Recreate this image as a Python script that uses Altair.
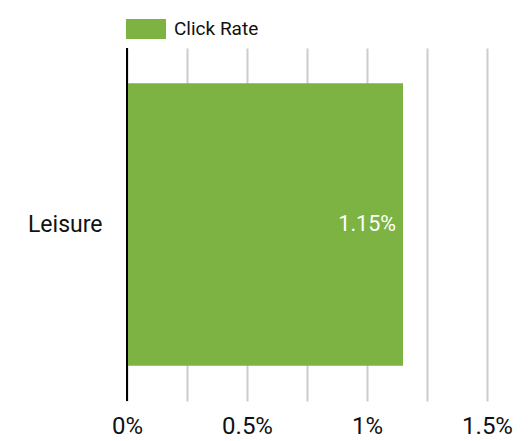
import altair as alt
import pandas as pd

categories = ["Leisure"]
click_rate = [1.15]
series_name = "Click Rate"
x_ticks = [0, 0.5, 1, 1.5]

df = pd.DataFrame({"category": categories, "value": click_rate, "series": [series_name] * len(categories)})
df["label"] = df["value"].map(lambda v: f"{v:g}%")

FONT = "Roboto"
GREEN = "#7cb342"

base = alt.Chart(df)

bars = base.mark_bar(color=GREEN).encode(
    y=alt.Y("category:N", title=None,
            scale=alt.Scale(paddingInner=0.2, paddingOuter=0.1),
            axis=alt.Axis(ticks=False, domain=False, labelPadding=25, labelFontSize=23,
                          labelFont=FONT, labelColor="#111111", grid=False)),
    x=alt.X("value:Q", title=None,
            scale=alt.Scale(domain=[0, 1.5], nice=False),
            axis=alt.Axis(values=[0, 0.25, 0.5, 0.75, 1, 1.25, 1.5],
                          labelExpr="indexof([0,0.5,1,1.5], datum.value) >= 0 ? datum.value + '%' : ''",
                          ticks=False, domain=False, grid=True, gridColor="#cccccc", gridWidth=2,
                          labelFlush=False, labelBound=False, labelOverlap=False,
                          labelFontSize=24, labelFont=FONT, labelColor="#111111", labelPadding=13)),
    fill=alt.Fill("series:N", scale=alt.Scale(range=[GREEN]),
                  legend=alt.Legend(title=None, orient="none", legendX=-1, legendY=-39,
                                    symbolType="M-1,-0.5H1V0.5H-1Z", symbolSize=1600,
                                    symbolStrokeWidth=0, labelFontSize=19, labelFont=FONT,
                                    labelColor="#111111", labelOffset=8)),
)

zero = alt.Chart(pd.DataFrame({"z": [0]})).mark_rule(color="black", strokeWidth=2).encode(x="z:Q")

text = base.mark_text(align="right", dx=-7, color="white", fontSize=21.5, font=FONT).encode(
    y="category:N", x="value:Q", text="label:N")

chart = alt.layer(bars, zero, text).properties(
    width=360, height=353,
    padding={"left": 119, "top": 40, "right": 30, "bottom": 40},
    autosize=alt.AutoSizeParams(type="none"),
).configure_view(stroke=None)

chart.save("out.html", embed_options={"renderer": "svg", "actions": False})
